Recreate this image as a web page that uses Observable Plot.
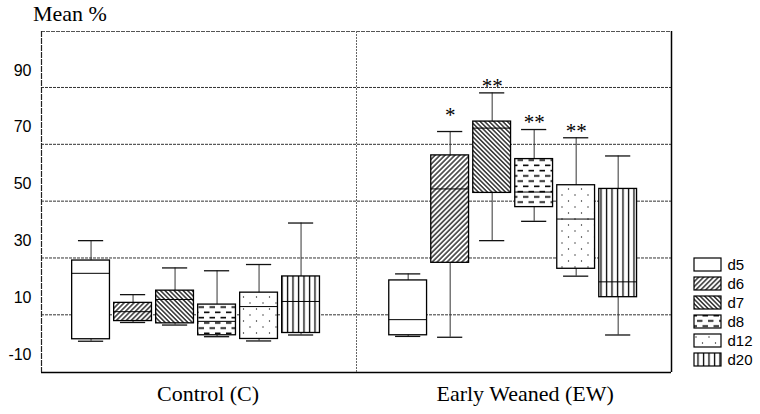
<!DOCTYPE html>
<html><head><meta charset="utf-8">
<script src="https://cdn.jsdelivr.net/npm/d3@7"></script>
<script src="https://cdn.jsdelivr.net/npm/@observablehq/plot@0.6"></script>
<style>
html,body{margin:0;padding:0;background:#fff;}
#wrap{position:relative;width:760px;height:414px;overflow:hidden;background:#fff;}
#chart{position:absolute;left:0;top:0;}
#title{position:absolute;left:33px;top:3px;font-family:"Liberation Serif",serif;font-size:22px;line-height:1;color:#000;}
#legend{position:absolute;left:680px;top:250px;}
</style></head><body>
<div id="wrap"><div id="chart"></div><div id="title">Mean %</div><div id="legend"></div></div>
<script>
// ---- data ----
const days = ["d5", "d6", "d7", "d8", "d12", "d20"];
const groups = ["Control (C)", "Early Weaned (EW)"];
const yTicks = [-10, 10, 30, 50, 70, 90];
const gridValues = [4, 24, 44, 64, 84];

const lowC  = [-5.3, 1.3, 0.4, -3.7, -5.2, -3.1];
const q1C   = [-4.6, 1.8, 1.0, -3.2, -4.5, -2.4];
const medC  = [18.6, 5.1, 9.4, 1.7, 6.9, 8.7];
const q3C   = [23.1, 8.2, 12.5, 7.6, 11.8, 17.5];
const highC = [30.1, 11.1, 20.5, 19.5, 21.7, 36.3];

const lowEW  = [-3.6, -3.9, 30.1, 36.9, 17.6, -3.1];
const q1EW   = [-3.2, 22.3, 46.9, 41.9, 20.2, 10.2];
const medEW  = [2.3, 48.3, 69.7, 47.2, 37.7, 15.6];
const q3EW   = [16.1, 60.1, 72.0, 58.8, 49.6, 48.3];
const highEW = [18.4, 68.5, 82.1, 69.2, 66.3, 59.9];

const sigC  = ["", "", "", "", "", ""];
const sigEW = ["", "*", "**", "**", "**", ""];

// ---- layout / style ----
const groupGap = 7.55, boxHalf = 0.45, capHalf = 0.3;
const xDomain = [-1.18, 13.82];
const yDomain = [-16.3, 103.7];
const patternFor = {d5: "white", d6: "url(#pat-d6)", d7: "url(#pat-d7)", d8: "url(#pat-d8)", d12: "url(#pat-d12)", d20: "url(#pat-d20)"};

const series = [
  {low: lowC, q1: q1C, med: medC, q3: q3C, high: highC, sig: sigC},
  {low: lowEW, q1: q1EW, med: medEW, q3: q3EW, high: highEW, sig: sigEW}
];
const rows = [];
groups.forEach((g, gi) => {
  const s = series[gi];
  days.forEach((d, di) => rows.push({
    group: g, day: d, pos: gi * groupGap + di,
    low: s.low[di], q1: s.q1[di], med: s.med[di], q3: s.q3[di], high: s.high[di], sig: s.sig[di]
  }));
});
const groupCenters = groups.map((g, gi) => gi * groupGap + (days.length - 1) / 2);
const labelAt = new Map(groupCenters.map((c, i) => [c, groups[i]]));
const mid = (xDomain[0] + xDomain[1]) / 2;

const svg = Plot.plot({
  width: 760, height: 414,
  marginTop: 31, marginBottom: 42, marginLeft: 41, marginRight: 89,
  x: {domain: xDomain},
  y: {domain: yDomain},
  color: {type: "identity"},
  style: {background: "white", color: "black", fontFamily: "Liberation Sans", fontSize: "15px", overflow: "visible"},
  marks: [
    Plot.ruleY(gridValues, {stroke: "#333", strokeWidth: 1, strokeDasharray: "3,1"}),
    Plot.ruleY([yDomain[1]], {stroke: "#555", strokeWidth: 1, strokeDasharray: "4,1"}),
    Plot.ruleY([yDomain[0]], {stroke: "#000", strokeWidth: 1.5}),
    Plot.ruleX([xDomain[0]], {stroke: "#222", strokeWidth: 1.2, strokeDasharray: "6,1"}),
    Plot.ruleX([xDomain[1]], {stroke: "#000", strokeWidth: 1.5}),
    Plot.ruleX([mid], {stroke: "#666", strokeWidth: 1, strokeDasharray: "2,1"}),
    Plot.ruleX(rows, {x: "pos", y1: "low", y2: "high", stroke: "#333", strokeWidth: 1}),
    Plot.ruleY(rows, {y: "high", x1: d => d.pos - capHalf, x2: d => d.pos + capHalf, stroke: "#111", strokeWidth: 1.3}),
    Plot.ruleY(rows, {y: "low", x1: d => d.pos - capHalf, x2: d => d.pos + capHalf, stroke: "#111", strokeWidth: 1.3}),
    Plot.rect(rows, {x1: d => d.pos - boxHalf, x2: d => d.pos + boxHalf, y1: "q1", y2: "q3", fill: d => patternFor[d.day], stroke: "#000", strokeWidth: 1.3}),
    Plot.ruleY(rows, {y: "med", x1: d => d.pos - boxHalf, x2: d => d.pos + boxHalf, stroke: "#000", strokeWidth: 1}),
    Plot.text(rows.filter(d => d.sig === "**"), {x: "pos", y: "high", text: "sig", dy: -7, fontFamily: "Liberation Serif", fontSize: 21}),
    Plot.text(rows.filter(d => d.sig === "*"), {x: "pos", y: "high", text: "sig", dy: -16, fontFamily: "Liberation Serif", fontSize: 21}),
    Plot.axisY(yTicks, {tickSize: 0, tickPadding: 10, tickFormat: d => String(d), fontSize: 16, fontFamily: "Liberation Sans", label: null}),
    Plot.axisX(groupCenters, {tickSize: 0, tickPadding: 13, tickFormat: d => labelAt.get(d), fontSize: 22, fontFamily: "Liberation Serif", dx: 12, label: null})
  ]
});

// patterns
const defs = d3.select(svg).insert("defs", ":first-child");
function pat(id, w, h, transform) {
  const p = defs.append("pattern").attr("id", id).attr("patternUnits", "userSpaceOnUse").attr("width", w).attr("height", h);
  if (transform) p.attr("patternTransform", transform);
  p.append("rect").attr("width", w).attr("height", h).attr("fill", "white");
  return p;
}
pat("pat-d6", 3.5, 3.5, "rotate(45)").append("line").attr("x1", 0.9).attr("x2", 0.9).attr("y1", 0).attr("y2", 3.5).attr("stroke", "#000").attr("stroke-width", 1.2);
pat("pat-d7", 3.2, 3.2, "rotate(-45)").append("line").attr("x1", 0.8).attr("x2", 0.8).attr("y1", 0).attr("y2", 3.2).attr("stroke", "#000").attr("stroke-width", 1.2);
const p8 = pat("pat-d8", 11, 10.5);
p8.append("line").attr("x1", 0.5).attr("x2", 6).attr("y1", 2.6).attr("y2", 2.6).attr("stroke", "#000").attr("stroke-width", 1.6);
p8.append("line").attr("x1", 6).attr("x2", 11).attr("y1", 7.9).attr("y2", 7.9).attr("stroke", "#000").attr("stroke-width", 1.6);
p8.append("line").attr("x1", 0).attr("x2", 0.5).attr("y1", 7.9).attr("y2", 7.9).attr("stroke", "#000").attr("stroke-width", 1.6);
const p12 = pat("pat-d12", 13, 12);
p12.append("circle").attr("cx", 3).attr("cy", 3).attr("r", 0.7).attr("fill", "#222");
p12.append("circle").attr("cx", 9.5).attr("cy", 9).attr("r", 0.7).attr("fill", "#222");
pat("pat-d20", 5.5, 10).append("line").attr("x1", 1.5).attr("x2", 1.5).attr("y1", 0).attr("y2", 10).attr("stroke", "#000").attr("stroke-width", 1.3);

document.getElementById("chart").append(svg);

// legend
const legend = Plot.plot({
  width: 80, height: 130, margin: 0,
  x: {domain: [0, 80], range: [0, 80], axis: null},
  y: {type: "band", domain: days, range: [0, 123.5], padding: 0.33, axis: null},
  color: {type: "identity"},
  style: {background: "transparent", color: "black", fontFamily: "Liberation Sans", fontSize: "15px", overflow: "visible"},
  marks: [
    Plot.barX(days, {x1: 14, x2: 41, y: d => d, fill: d => patternFor[d], stroke: "#000", strokeWidth: 1.2}),
    Plot.text(days, {x: 47, y: d => d, text: d => d, textAnchor: "start", fontSize: 15, fontFamily: "Liberation Sans"})
  ]
});
document.getElementById("legend").append(legend);
</script>
</body></html>
